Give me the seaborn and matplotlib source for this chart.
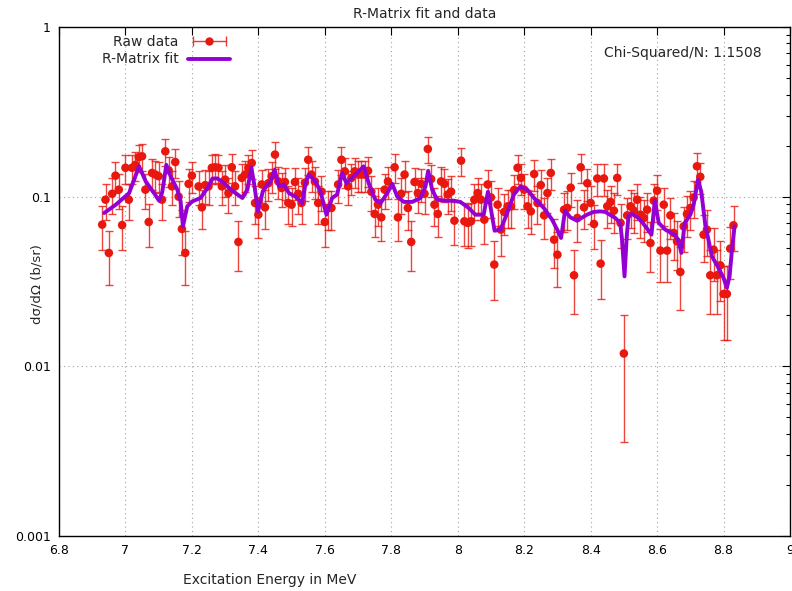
import numpy as np
import pandas as pd
import matplotlib
matplotlib.use("Agg")
import matplotlib.pyplot as plt
import seaborn as sns
from matplotlib.lines import Line2D
from matplotlib.legend_handler import HandlerLine2D, HandlerTuple
from matplotlib.ticker import FixedLocator, LogLocator, NullFormatter, NullLocator

# ---------------- data ----------------
energy = [6.93, 6.94, 6.95, 6.96, 6.97, 6.98, 6.99, 7.00, 7.01, 7.02, 7.03, 7.04, 7.05, 7.06,
          7.07, 7.08, 7.09, 7.10, 7.11, 7.12, 7.13, 7.14, 7.15, 7.16, 7.17, 7.18, 7.19, 7.20,
          7.22, 7.23, 7.24, 7.25, 7.26, 7.27, 7.28, 7.29,
          7.30, 7.31, 7.32, 7.33, 7.34, 7.35, 7.36, 7.37, 7.38, 7.39, 7.40, 7.41, 7.42, 7.43,
          7.44, 7.45, 7.46, 7.47, 7.48, 7.49, 7.50, 7.51, 7.52, 7.53, 7.54, 7.55, 7.56, 7.57,
          7.58, 7.59, 7.60, 7.61, 7.62, 7.64, 7.65, 7.66, 7.67,
          7.68, 7.69, 7.70, 7.71, 7.72, 7.73, 7.74, 7.75, 7.76, 7.77, 7.78, 7.79,
          7.81, 7.82, 7.83, 7.84, 7.85, 7.86, 7.87, 7.88, 7.89, 7.90, 7.91, 7.92, 7.93, 7.94,
          7.95, 7.96, 7.97, 7.98, 7.99, 8.01, 8.02, 8.03, 8.04, 8.05,
          8.06, 8.07, 8.08, 8.09, 8.10, 8.11, 8.12, 8.13, 8.14, 8.15, 8.16, 8.17, 8.18, 8.19,
          8.20, 8.21, 8.22, 8.23, 8.24, 8.25, 8.26, 8.27, 8.28, 8.29, 8.30,
          8.32, 8.33, 8.34, 8.35, 8.36, 8.37, 8.38, 8.39, 8.40, 8.41, 8.42, 8.43,
          8.44, 8.45, 8.46, 8.47, 8.48, 8.49, 8.50, 8.51, 8.52, 8.53, 8.54, 8.55, 8.56, 8.57,
          8.58, 8.59, 8.60, 8.61, 8.62, 8.63, 8.64, 8.65, 8.66, 8.67, 8.68, 8.69, 8.70, 8.71,
          8.72, 8.73, 8.74, 8.75, 8.76, 8.77, 8.78, 8.79, 8.80, 8.81, 8.82, 8.83]

xsec = [0.0684, 0.096, 0.0466, 0.104, 0.133, 0.110, 0.068, 0.148, 0.096, 0.148, 0.154, 0.171, 0.173, 0.110,
        0.0709, 0.138, 0.135, 0.132, 0.096, 0.185, 0.143, 0.115, 0.160, 0.100, 0.0645, 0.0466, 0.119, 0.133,
        0.115, 0.0865, 0.117, 0.115, 0.148, 0.149, 0.148, 0.115,
        0.126, 0.105, 0.149, 0.115, 0.0541, 0.129, 0.135, 0.148, 0.158, 0.0918, 0.0783, 0.118, 0.0865, 0.120,
        0.132, 0.177, 0.123, 0.1125, 0.122, 0.0918, 0.0897, 0.122, 0.104, 0.0918, 0.121, 0.165, 0.135, 0.123,
        0.0918, 0.107, 0.0709, 0.0858, 0.0858, 0.118, 0.165, 0.141, 0.115,
        0.129, 0.141, 0.135, 0.135, 0.135, 0.142, 0.107, 0.0791, 0.0897, 0.0755, 0.110, 0.123,
        0.149, 0.0755, 0.104, 0.135, 0.0858, 0.0541, 0.122, 0.105, 0.119, 0.104, 0.191, 0.127, 0.0897, 0.0791,
        0.123, 0.119, 0.103, 0.107, 0.0722, 0.163, 0.0716, 0.070, 0.0716, 0.096,
        0.105, 0.096, 0.0732, 0.118, 0.099, 0.0398, 0.0897, 0.0639, 0.0813, 0.0877, 0.0877, 0.1095, 0.148, 0.129,
        0.110, 0.0877, 0.0819, 0.136, 0.0918, 0.117, 0.0776, 0.105, 0.138, 0.0558, 0.0455,
        0.0838, 0.0858, 0.113, 0.0344, 0.0749, 0.149, 0.0865, 0.120, 0.0918, 0.069, 0.128, 0.0403,
        0.128, 0.0877, 0.0931, 0.0827, 0.129, 0.070, 0.0119, 0.0776, 0.0877, 0.0827, 0.096, 0.0783, 0.0749, 0.0838,
        0.0533, 0.0947, 0.1085, 0.0481, 0.0897, 0.0481, 0.0776, 0.0611, 0.0545, 0.036, 0.0668, 0.0791, 0.0858, 0.099,
        0.151, 0.131, 0.0597, 0.0639, 0.0344, 0.0487, 0.0344, 0.0394, 0.0267, 0.0267, 0.0494, 0.0678]

xsec_err = [0.0199, 0.0235, 0.0164, 0.0245, 0.0277, 0.0252, 0.0198, 0.0292, 0.0235, 0.0292, 0.0298, 0.0314, 0.0316, 0.0252,
            0.0202, 0.0282, 0.0279, 0.0276, 0.0235, 0.0327, 0.0287, 0.0258, 0.0304, 0.0240, 0.0193, 0.0164, 0.0262, 0.0277,
            0.0258, 0.0224, 0.0260, 0.0258, 0.0292, 0.0293, 0.0292, 0.0258,
            0.0270, 0.0246, 0.0293, 0.0258, 0.0177, 0.0273, 0.0279, 0.0292, 0.0302, 0.0230, 0.0213, 0.0261, 0.0224, 0.0263,
            0.0276, 0.0320, 0.0267, 0.0255, 0.0265, 0.0230, 0.0228, 0.0265, 0.0245, 0.0230, 0.0264, 0.0309, 0.0279, 0.0267,
            0.0230, 0.0249, 0.0202, 0.0223, 0.0223, 0.0261, 0.0309, 0.0285, 0.0258,
            0.0273, 0.0285, 0.0279, 0.0279, 0.0279, 0.0286, 0.0249, 0.0214, 0.0228, 0.0209, 0.0252, 0.0267,
            0.0293, 0.0209, 0.0245, 0.0279, 0.0223, 0.0177, 0.0265, 0.0246, 0.0262, 0.0245, 0.0332, 0.0271, 0.0228, 0.0214,
            0.0267, 0.0262, 0.0244, 0.0249, 0.0204, 0.0307, 0.0203, 0.0201, 0.0203, 0.0235,
            0.0246, 0.0235, 0.0206, 0.0261, 0.0239, 0.0152, 0.0228, 0.0192, 0.0217, 0.0225, 0.0225, 0.0251, 0.0292, 0.0273,
            0.0252, 0.0225, 0.0218, 0.0280, 0.0230, 0.0260, 0.0212, 0.0246, 0.0282, 0.0180, 0.0162,
            0.0220, 0.0223, 0.0255, 0.0141, 0.0208, 0.0293, 0.0224, 0.0263, 0.0230, 0.0200, 0.0272, 0.0153,
            0.0272, 0.0225, 0.0232, 0.0219, 0.0273, 0.0201, 0.0083, 0.0212, 0.0225, 0.0219, 0.0235, 0.0213, 0.0208, 0.0220,
            0.0175, 0.0234, 0.0250, 0.0167, 0.0228, 0.0167, 0.0212, 0.0188, 0.0177, 0.0144, 0.0196, 0.0214, 0.0223, 0.0239,
            0.0295, 0.0275, 0.0186, 0.0192, 0.0141, 0.0168, 0.0141, 0.0151, 0.0124, 0.0124, 0.0169, 0.0198]

fit_energy = [6.936, 6.971, 7.011, 7.041, 7.061, 7.086, 7.101, 7.111, 7.123, 7.136, 7.156, 7.166, 7.173, 7.186,
              7.201, 7.226, 7.247, 7.262, 7.277, 7.297, 7.317, 7.352, 7.367, 7.379, 7.387, 7.399, 7.413, 7.428,
              7.437, 7.449, 7.462, 7.477, 7.492, 7.512, 7.532, 7.542, 7.552, 7.572, 7.587, 7.605, 7.622, 7.637,
              7.652, 7.665, 7.682, 7.702, 7.717, 7.732, 7.752, 7.768, 7.788, 7.803, 7.818, 7.838, 7.863, 7.888,
              7.903, 7.911, 7.923, 7.938, 7.963, 7.988, 8.008, 8.033, 8.053, 8.078, 8.091, 8.101, 8.111, 8.129,
              8.149, 8.169, 8.189, 8.209, 8.234, 8.259, 8.284, 8.301, 8.311, 8.323, 8.339, 8.359, 8.389, 8.409,
              8.429, 8.444, 8.474, 8.489, 8.494, 8.502, 8.509, 8.514, 8.524, 8.544, 8.565, 8.583, 8.593, 8.605,
              8.625, 8.655, 8.665, 8.673, 8.683, 8.700, 8.710, 8.723, 8.733, 8.745, 8.765, 8.785, 8.800, 8.810,
              8.818, 8.826, 8.833]

fit_xsec = [0.0801, 0.0897, 0.105, 0.151, 0.123, 0.105, 0.0947, 0.107, 0.154, 0.132, 0.110, 0.0938, 0.0668, 0.0877,
            0.0938, 0.0982, 0.1125, 0.128, 0.128, 0.120, 0.110, 0.0982, 0.110, 0.148, 0.120, 0.0819, 0.107, 0.118,
            0.123, 0.144, 0.115, 0.118, 0.105, 0.100, 0.0918, 0.120, 0.135, 0.123, 0.107, 0.0783, 0.0982, 0.103,
            0.138, 0.120, 0.129, 0.141, 0.151, 0.120, 0.096, 0.0918, 0.105, 0.119, 0.100, 0.0931, 0.0931, 0.0982,
            0.115, 0.142, 0.110, 0.096, 0.0947, 0.0947, 0.0931, 0.0858, 0.0783, 0.0783, 0.107, 0.0819, 0.0630, 0.0639,
            0.0801, 0.103, 0.115, 0.110, 0.096, 0.0858, 0.0732, 0.063, 0.0571, 0.0827, 0.0755, 0.0722, 0.0783, 0.0813,
            0.0819, 0.0813, 0.0749, 0.070, 0.0571, 0.0339, 0.0597, 0.0766, 0.0791, 0.0749, 0.0668, 0.0597, 0.0947, 0.070,
            0.0639, 0.0592, 0.0545, 0.0466, 0.070, 0.0783, 0.0897, 0.126, 0.107, 0.0684, 0.0445, 0.038, 0.0332, 0.029,
            0.0339, 0.0498, 0.0668]

x_ticks = [6.8, 7.0, 7.2, 7.4, 7.6, 7.8, 8.0, 8.2, 8.4, 8.6, 8.8, 9.0]
x_tick_labels = ["6.8", "7", "7.2", "7.4", "7.6", "7.8", "8", "8.2", "8.4", "8.6", "8.8", "9"]
y_ticks = [0.001, 0.01, 0.1, 1]
y_tick_labels = ["0.001", "0.01", "0.1", "1"]

title_text = "R-Matrix fit and data"
chi_text = "Chi-Squared/N: 1.1508"

# ---------------- style ----------------
sns.set_theme(style="white")
plt.rcParams['font.family'] = ['DejaVu Sans', 'Noto Sans']
FS = 10
TFS = 9
RED = '#e8180e'
PURPLE = '#9400d3'

W, H = 792, 591
fig = plt.figure(figsize=(W / 100, H / 100), dpi=100)
L, R, T, B = 59, 790, 27, 536
ax = fig.add_axes([L / W, 1 - B / H, (R - L) / W, (B - T) / H])

df = pd.DataFrame({"energy": energy, "xsec": xsec, "err": xsec_err})
fit_df = pd.DataFrame({"energy": fit_energy, "xsec": fit_xsec})

ax.errorbar(df["energy"], df["xsec"], yerr=df["err"], fmt='none', ecolor=RED,
            elinewidth=1.0, capsize=2.6, capthick=1.0, alpha=0.8, zorder=2)
sns.scatterplot(data=df, x="energy", y="xsec", color=RED, s=38, edgecolor='none',
                linewidth=0, ax=ax, zorder=3, legend=False)
sns.lineplot(data=fit_df, x="energy", y="xsec", color=PURPLE, linewidth=2.8,
             ax=ax, zorder=4, legend=False)

ax.set_yscale('log')
ax.set_xlim(6.8, 9.0)
ax.set_ylim(0.001, 1)
ax.xaxis.set_major_locator(FixedLocator(x_ticks))
ax.set_xticklabels(x_tick_labels)
ax.xaxis.set_minor_locator(NullLocator())
ax.yaxis.set_major_locator(FixedLocator(y_ticks))
ax.set_yticklabels(y_tick_labels)
ax.yaxis.set_minor_locator(LogLocator(base=10, subs=np.arange(2, 10)))
ax.yaxis.set_minor_formatter(NullFormatter())
ax.tick_params(which='both', direction='in', top=True, right=True, colors='black',
               labelsize=TFS, width=0.8)
ax.tick_params(which='major', length=6, pad=6)
ax.tick_params(which='minor', length=3)
ax.set_xlabel("")
ax.set_ylabel("")
for s in ax.spines.values():
    s.set_color('black')
    s.set_linewidth(1.0)
ax.grid(True, which='major', linestyle=(0, (1, 3)), color='#a0a0a0', linewidth=0.8)

fig.text((L + R) / 2 / W, 1 - 14 / H, title_text, ha='center', va='center', fontsize=FS)
fig.text(762 / W, 1 - 53 / H, chi_text, ha='right', va='center', fontsize=FS)
fig.text(270 / W, 1 - 580 / H, "Excitation Energy in MeV", ha='center', va='center', fontsize=FS)
fig.text(37 / W, 1 - 284 / H, "dσ/dΩ (b/sr)", ha='center', va='center', rotation=90, fontsize=9.5)

# legend (gnuplot style: text left, sample right)
caps = Line2D([], [], color=RED, lw=1.0, marker='|', markersize=7, mew=1.0, alpha=0.85)
dot = Line2D([], [], color=RED, lw=0, marker='o', markersize=6, mew=0)
fitl = Line2D([], [], color=PURPLE, lw=2.8)
raw_handle = (caps, dot)
leg = ax.legend([raw_handle, fitl], ["Raw data", "R-Matrix fit"],
                handler_map={caps: HandlerLine2D(numpoints=2), dot: HandlerLine2D(numpoints=1),
                             raw_handle: HandlerTuple(ndivide=1, pad=0)},
                markerfirst=False, frameon=False, loc='upper right',
                bbox_to_anchor=(230 / W, 1 - 35 / H), bbox_transform=fig.transFigure,
                borderpad=0, borderaxespad=0, handlelength=3.0, handletextpad=0.7,
                labelspacing=0.25, fontsize=FS)

fig.savefig("out.png", dpi=100)
